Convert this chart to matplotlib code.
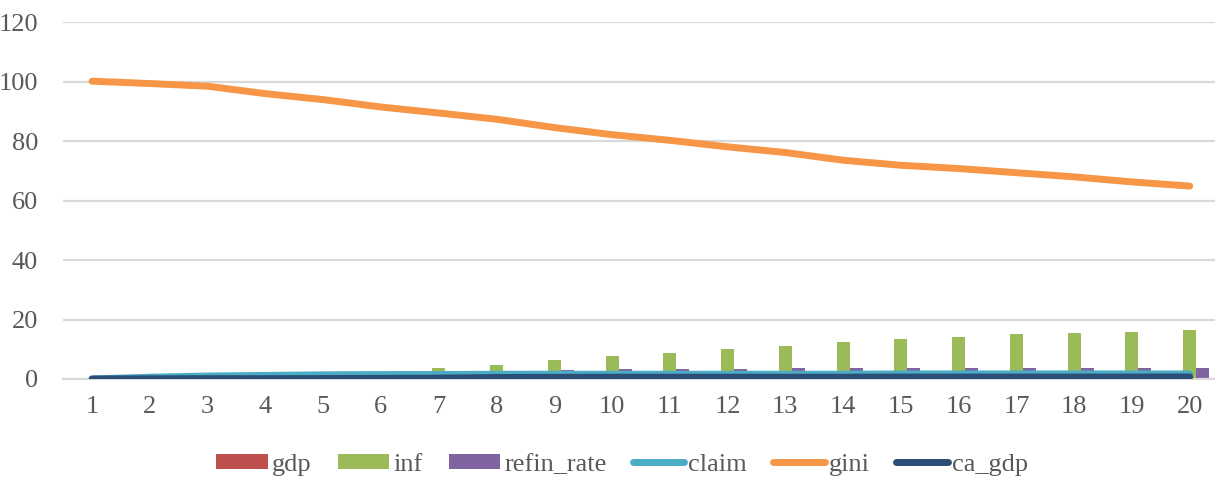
import matplotlib
matplotlib.use("Agg")
import matplotlib.pyplot as plt
import numpy as np

plt.rcParams['font.family'] = ['Liberation Serif', 'DejaVu Serif']

categories = list(range(1, 21))
gdp = [0.2, 0.3, 0.3, 0.3, 0.4, 0.4, 0.4, 0.4, 0.5, 0.5, 0.5, 0.5, 0.5, 0.5, 0.5, 0.5, 0.5, 0.5, 0.5, 0.5]
inf = [0.3, 0.6, 0.9, 1.2, 1.5, 1.9, 3.8, 4.7, 6.3, 7.7, 8.6, 10.1, 11.1, 12.5, 13.4, 14.0, 15.0, 15.5, 15.9, 16.5]
refin_rate = [0.5, 0.6, 0.7, 0.8, 0.9, 1.0, 1.2, 1.4, 2.9, 3.3, 3.3, 3.3, 3.8, 3.8, 3.8, 3.8, 3.8, 3.8, 3.8, 3.8]
claim = [0.0, 0.6, 1.0, 1.2, 1.4, 1.5, 1.5, 1.6, 1.6, 1.6, 1.6, 1.6, 1.6, 1.6, 1.7, 1.7, 1.7, 1.7, 1.7, 1.7]
gini = [100.2, 99.4, 98.5, 96.0, 94.0, 91.5, 89.5, 87.4, 84.6, 82.2, 80.3, 78.1, 76.2, 73.6, 71.9, 70.8, 69.4, 68.0, 66.3, 64.9]
ca_gdp = [0.0, 0.05, 0.1, 0.1, 0.15, 0.2, 0.3, 0.5, 0.55, 0.6, 0.6, 0.6, 0.6, 0.6, 0.65, 0.65, 0.65, 0.65, 0.65, 0.7]
yticks = [0, 20, 40, 60, 80, 100, 120]

text_color = '#595959'
grid_color = '#D9D9D9'

fig = plt.figure(figsize=(12.15, 4.79), dpi=100)
ax = fig.add_axes([0.052, 0.2088, 0.951, 0.7446])

x = np.array(categories)
w = 0.225
b1 = ax.bar(x - w, gdp, w, color='#C0504D', label='gdp', zorder=2)
b2 = ax.bar(x, inf, w, color='#9BBB59', label='inf', zorder=2)
b3 = ax.bar(x + w, refin_rate, w, color='#8064A2', label='refin_rate', zorder=2)

lw = 5
l1, = ax.plot(x, claim, color='#4BACC6', lw=lw, solid_capstyle='round', label='claim', zorder=3)
l2, = ax.plot(x, gini, color='#F79646', lw=lw, solid_capstyle='round', label='gini', zorder=3)
l3, = ax.plot(x, ca_gdp, color='#2C4D75', lw=lw, solid_capstyle='round', label='ca_gdp', zorder=3)

ax.set_xlim(0.5, 20.5)
ax.set_ylim(0, 120)
ax.set_yticks(yticks)
ax.set_xticks(categories)
ax.yaxis.grid(True, color=grid_color, lw=1.6, zorder=0)
ax.set_axisbelow(True)
for s in ['top', 'right', 'left']:
    ax.spines[s].set_visible(False)
ax.spines['bottom'].set_color(grid_color)
ax.spines['bottom'].set_linewidth(1.6)
ax.tick_params(axis='both', length=0, labelsize=19, labelcolor=text_color)
ax.tick_params(axis='y', pad=18)
ax.tick_params(axis='x', pad=12)

handles = [b1, b2, b3, l1, l2, l3]
labels = [h.get_label() for h in handles]
leg = fig.legend(handles, labels, loc='center', bbox_to_anchor=(622 / 1215, 0.03),
                 ncol=6, frameon=False, fontsize=19, handlelength=1.95,
                 handletextpad=0.15, columnspacing=1.0, handleheight=0.5)
for t in leg.get_texts():
    t.set_color(text_color)

fig.savefig('out.png', dpi=100)
